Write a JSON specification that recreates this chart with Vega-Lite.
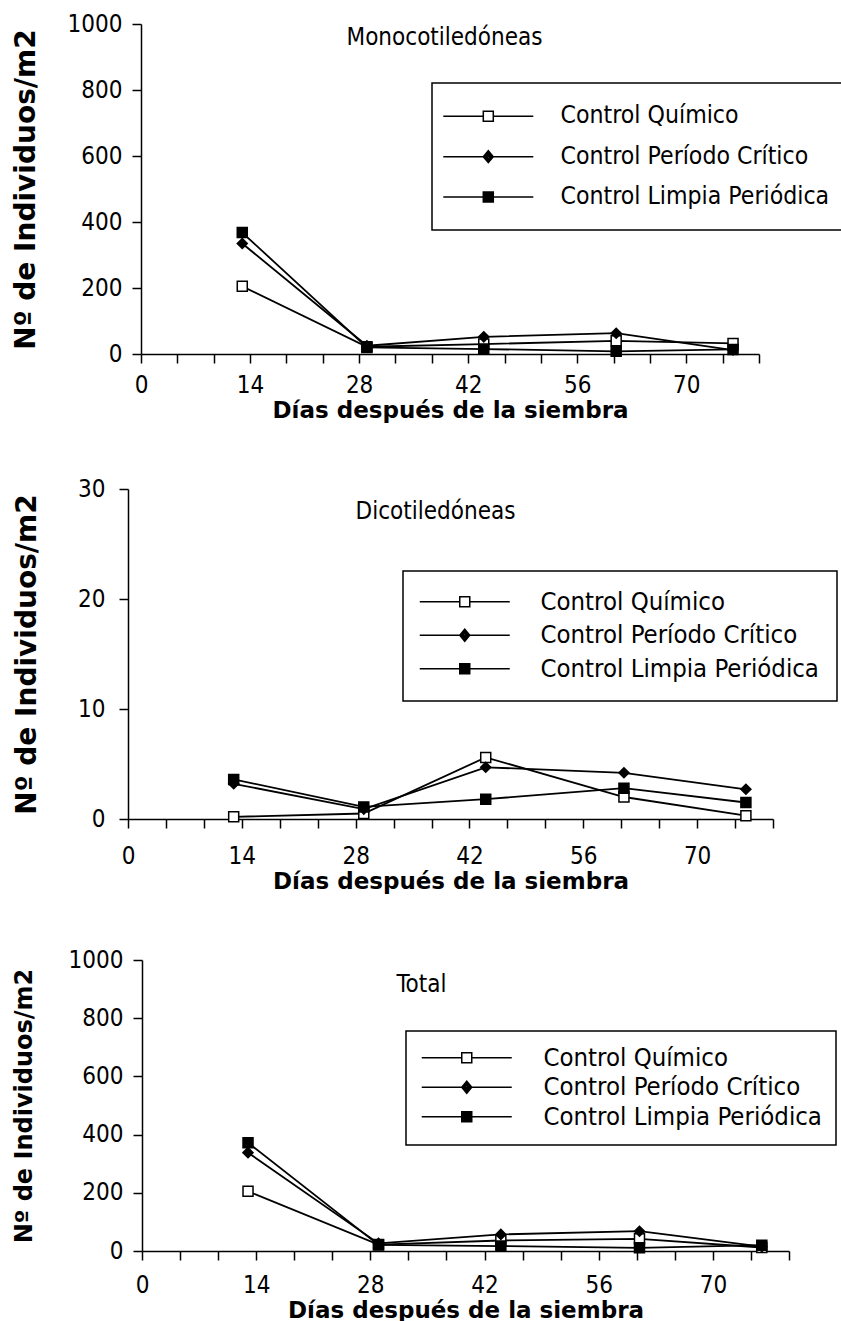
{
  "$schema": "https://vega.github.io/schema/vega-lite/v6.json",
  "background": "white",
  "padding": {"left": 12, "top": 12, "right": 0, "bottom": 0},
  "spacing": 55,
  "columns": 1,
  "datasets": {
    "mono": [
      {"serie": "Control Químico", "dia": 13, "valor": 205},
      {"serie": "Control Químico", "dia": 29, "valor": 22},
      {"serie": "Control Químico", "dia": 44, "valor": 30},
      {"serie": "Control Químico", "dia": 61, "valor": 40},
      {"serie": "Control Químico", "dia": 76, "valor": 32},
      {"serie": "Control Período Crítico", "dia": 13, "valor": 335},
      {"serie": "Control Período Crítico", "dia": 29, "valor": 25},
      {"serie": "Control Período Crítico", "dia": 44, "valor": 52},
      {"serie": "Control Período Crítico", "dia": 61, "valor": 63},
      {"serie": "Control Período Crítico", "dia": 76, "valor": 12},
      {"serie": "Control Limpia Periódica", "dia": 13, "valor": 368},
      {"serie": "Control Limpia Periódica", "dia": 29, "valor": 20},
      {"serie": "Control Limpia Periódica", "dia": 44, "valor": 15},
      {"serie": "Control Limpia Periódica", "dia": 61, "valor": 8},
      {"serie": "Control Limpia Periódica", "dia": 76, "valor": 14}
    ],
    "dico": [
      {"serie": "Control Químico", "dia": 13, "valor": 0.2},
      {"serie": "Control Químico", "dia": 29, "valor": 0.5},
      {"serie": "Control Químico", "dia": 44, "valor": 5.6},
      {"serie": "Control Químico", "dia": 61, "valor": 2.0},
      {"serie": "Control Químico", "dia": 76, "valor": 0.3},
      {"serie": "Control Período Crítico", "dia": 13, "valor": 3.2},
      {"serie": "Control Período Crítico", "dia": 29, "valor": 0.9},
      {"serie": "Control Período Crítico", "dia": 44, "valor": 4.7},
      {"serie": "Control Período Crítico", "dia": 61, "valor": 4.2},
      {"serie": "Control Período Crítico", "dia": 76, "valor": 2.7},
      {"serie": "Control Limpia Periódica", "dia": 13, "valor": 3.6},
      {"serie": "Control Limpia Periódica", "dia": 29, "valor": 1.1},
      {"serie": "Control Limpia Periódica", "dia": 44, "valor": 1.8},
      {"serie": "Control Limpia Periódica", "dia": 61, "valor": 2.8},
      {"serie": "Control Limpia Periódica", "dia": 76, "valor": 1.5}
    ],
    "total": [
      {"serie": "Control Químico", "dia": 13, "valor": 205},
      {"serie": "Control Químico", "dia": 29, "valor": 22},
      {"serie": "Control Químico", "dia": 44, "valor": 36},
      {"serie": "Control Químico", "dia": 61, "valor": 42},
      {"serie": "Control Químico", "dia": 76, "valor": 12},
      {"serie": "Control Período Crítico", "dia": 13, "valor": 338},
      {"serie": "Control Período Crítico", "dia": 29, "valor": 26},
      {"serie": "Control Período Crítico", "dia": 44, "valor": 57},
      {"serie": "Control Período Crítico", "dia": 61, "valor": 68},
      {"serie": "Control Período Crítico", "dia": 76, "valor": 15},
      {"serie": "Control Limpia Periódica", "dia": 13, "valor": 372},
      {"serie": "Control Limpia Periódica", "dia": 29, "valor": 21},
      {"serie": "Control Limpia Periódica", "dia": 44, "valor": 17},
      {"serie": "Control Limpia Periódica", "dia": 61, "valor": 11},
      {"serie": "Control Limpia Periódica", "dia": 76, "valor": 20}
    ]
  },
  "concat": [
    {
      "width": 631,
      "height": 330,
      "data": {"name": "mono"},
      "title": {"text": "Monocotiledóneas", "offset": -38, "dx": 1},
      "encoding": {
        "x": {"field": "dia", "type": "quantitative",
          "scale": {"domain": [0, 79.3333], "nice": false, "range": [13, 631]},
          "axis": {"title": "Días después de la siembra",
            "values": [0, 4.6667, 9.3333, 14, 18.6667, 23.3333, 28, 32.6667, 37.3333, 42, 46.6667, 51.3333, 56, 60.6667, 65.3333, 70, 74.6667, 79.3333],
            "labelExpr": "abs(datum.value - 14*round(datum.value/14)) < 0.01 ? format(datum.value, 'd') : ''",
            "labelPadding": 10, "titlePadding": 2, "titleFontSize": 23}},
        "y": {"field": "valor", "type": "quantitative",
          "scale": {"domain": [0, 1000], "nice": false},
          "axis": {"title": "Nº de Individuos/m2", "values": [0, 200, 400, 600, 800, 1000], "format": "d", "offset": -13,
            "labelPadding": 10, "titlePadding": 27, "titleFontSize": 28}}
      },
      "layer": [
        {"mark": {"type": "line", "color": "black", "strokeWidth": 1.8},
         "encoding": {"detail": {"field": "serie"}}},
        {"mark": {"type": "point", "stroke": "black", "strokeWidth": 1.5, "opacity": 1, "size": 100},
         "encoding": {
           "shape": {"field": "serie", "scale": {"domain": ["Control Químico", "Control Período Crítico", "Control Limpia Periódica"], "range": ["square", "diamond", "square"]}, "legend": null},
           "fill": {"field": "serie", "scale": {"domain": ["Control Químico", "Control Período Crítico", "Control Limpia Periódica"], "range": ["white", "black", "black"]}, "legend": null}}},
        {"transform": [{"filter": "false"}],
         "mark": {"type": "point", "filled": false, "color": "black", "strokeWidth": 1.5, "opacity": 1, "size": 100},
         "encoding": {
           "shape": {"field": "serie", "scale": {"domain": ["Control Químico", "Control Período Crítico", "Control Limpia Periódica"], "range": [
               "M-9,0H-1M1,0H9M-1,-1H1V1H-1Z",
               "M-9,0H9M-1,0L0,-1.2L1,0L0,1.2ZM-0.7,0L0,-0.85L0.7,0L0,0.85ZM-0.4,0L0,-0.5L0.4,0L0,0.5Z",
               "M-9,0H9M-1,-1H1V1H-1ZM-0.75,-0.75H0.75V0.75H-0.75ZM-0.5,-0.5H0.5V0.5H-0.5ZM-0.25,-0.25H0.25V0.25H-0.25Z"]},
             "legend": {"title": null, "orient": "none", "legendX": 304, "legendY": 59, "padding": 21, "rowPadding": 15.4, "labelFontSize": 24.6, "symbolOffset": 23, "labelOffset": 60}}}}
      ],
      "resolve": {"scale": {"shape": "independent"}}
    },
    {
      "width": 645,
      "height": 330,
      "data": {"name": "dico"},
      "title": {"text": "Dicotiledóneas", "offset": -47, "dx": -15},
      "encoding": {
        "x": {"field": "dia", "type": "quantitative",
          "scale": {"domain": [0, 79.3333], "nice": false},
          "axis": {"title": "Días después de la siembra",
            "values": [0, 4.6667, 9.3333, 14, 18.6667, 23.3333, 28, 32.6667, 37.3333, 42, 46.6667, 51.3333, 56, 60.6667, 65.3333, 70, 74.6667, 79.3333],
            "labelExpr": "abs(datum.value - 14*round(datum.value/14)) < 0.01 ? format(datum.value, 'd') : ''",
            "labelPadding": 16, "titlePadding": 2, "titleFontSize": 23}},
        "y": {"field": "valor", "type": "quantitative",
          "scale": {"domain": [0, 30], "nice": false},
          "axis": {"title": "Nº de Individuos/m2", "values": [0, 10, 20, 30], "format": "d",
            "labelPadding": 14, "titlePadding": 36, "titleFontSize": 28}}
      },
      "layer": [
        {"mark": {"type": "line", "color": "black", "strokeWidth": 1.8},
         "encoding": {"detail": {"field": "serie"}}},
        {"mark": {"type": "point", "stroke": "black", "strokeWidth": 1.5, "opacity": 1, "size": 100},
         "encoding": {
           "shape": {"field": "serie", "scale": {"domain": ["Control Químico", "Control Período Crítico", "Control Limpia Periódica"], "range": ["square", "diamond", "square"]}, "legend": null},
           "fill": {"field": "serie", "scale": {"domain": ["Control Químico", "Control Período Crítico", "Control Limpia Periódica"], "range": ["white", "black", "black"]}, "legend": null}}},
        {"transform": [{"filter": "false"}],
         "mark": {"type": "point", "filled": false, "color": "black", "strokeWidth": 1.5, "opacity": 1, "size": 100},
         "encoding": {
           "shape": {"field": "serie", "scale": {"domain": ["Control Químico", "Control Período Crítico", "Control Limpia Periódica"], "range": [
               "M-9,0H-1M1,0H9M-1,-1H1V1H-1Z",
               "M-9,0H9M-1,0L0,-1.2L1,0L0,1.2ZM-0.7,0L0,-0.85L0.7,0L0,0.85ZM-0.4,0L0,-0.5L0.4,0L0,0.5Z",
               "M-9,0H9M-1,-1H1V1H-1ZM-0.75,-0.75H0.75V0.75H-0.75ZM-0.5,-0.5H0.5V0.5H-0.5ZM-0.25,-0.25H0.25V0.25H-0.25Z"]},
             "legend": {"title": null, "orient": "none", "legendX": 275, "legendY": 82, "padding": 18, "rowPadding": 6.5, "labelFontSize": 25.5, "symbolOffset": 31, "labelOffset": 63}}}}
      ],
      "resolve": {"scale": {"shape": "independent"}}
    },
    {
      "width": 661,
      "height": 291,
      "data": {"name": "total"},
      "title": {"text": "Total", "offset": -49, "dx": -37},
      "encoding": {
        "x": {"field": "dia", "type": "quantitative",
          "scale": {"domain": [0, 79.3333], "nice": false, "range": [14, 661]},
          "axis": {"title": "Días después de la siembra",
            "values": [0, 4.6667, 9.3333, 14, 18.6667, 23.3333, 28, 32.6667, 37.3333, 42, 46.6667, 51.3333, 56, 60.6667, 65.3333, 70, 74.6667, 79.3333],
            "labelExpr": "abs(datum.value - 14*round(datum.value/14)) < 0.01 ? format(datum.value, 'd') : ''",
            "labelPadding": 13, "titlePadding": 2, "titleFontSize": 23}},
        "y": {"field": "valor", "type": "quantitative",
          "scale": {"domain": [0, 1000], "nice": false},
          "axis": {"title": "Nº de Individuos/m2", "values": [0, 200, 400, 600, 800, 1000], "format": "d", "offset": -14,
            "labelPadding": 10, "titlePadding": 32, "titleFontSize": 24}}
      },
      "layer": [
        {"mark": {"type": "line", "color": "black", "strokeWidth": 1.8},
         "encoding": {"detail": {"field": "serie"}}},
        {"mark": {"type": "point", "stroke": "black", "strokeWidth": 1.5, "opacity": 1, "size": 100},
         "encoding": {
           "shape": {"field": "serie", "scale": {"domain": ["Control Químico", "Control Período Crítico", "Control Limpia Periódica"], "range": ["square", "diamond", "square"]}, "legend": null},
           "fill": {"field": "serie", "scale": {"domain": ["Control Químico", "Control Período Crítico", "Control Limpia Periódica"], "range": ["white", "black", "black"]}, "legend": null}}},
        {"transform": [{"filter": "false"}],
         "mark": {"type": "point", "filled": false, "color": "black", "strokeWidth": 1.5, "opacity": 1, "size": 100},
         "encoding": {
           "shape": {"field": "serie", "scale": {"domain": ["Control Químico", "Control Período Crítico", "Control Limpia Periódica"], "range": [
               "M-9,0H-1M1,0H9M-1,-1H1V1H-1Z",
               "M-9,0H9M-1,0L0,-1.2L1,0L0,1.2ZM-0.7,0L0,-0.85L0.7,0L0,0.85ZM-0.4,0L0,-0.5L0.4,0L0,0.5Z",
               "M-9,0H9M-1,-1H1V1H-1ZM-0.75,-0.75H0.75V0.75H-0.75ZM-0.5,-0.5H0.5V0.5H-0.5ZM-0.25,-0.25H0.25V0.25H-0.25Z"]},
             "legend": {"title": null, "orient": "none", "legendX": 278, "legendY": 71, "padding": 14, "rowPadding": 2.5, "labelFontSize": 25.5, "symbolOffset": 34, "labelOffset": 64}}}}
      ],
      "resolve": {"scale": {"shape": "independent"}}
    }
  ],
  "config": {
    "view": {"stroke": null},
    "axis": {
      "grid": false,
      "domainColor": "black", "domainWidth": 1.5,
      "tickColor": "black", "tickWidth": 1.5, "tickSize": 9,
      "labelColor": "black", "labelFont": "DejaVu Sans Condensed", "labelFontSize": 24,
      "labelOverlap": false, "labelFlush": false,
      "titleColor": "black", "titleFont": "DejaVu Sans", "titleFontWeight": "bold"
    },
    "legend": {
      "strokeColor": "black", "strokeWidth": 1.5, "fillColor": "white",
      "labelFont": "DejaVu Sans Condensed", "labelFontSize": 24, "labelColor": "black", "labelLimit": 500,
      "symbolSize": 100, "symbolStrokeWidth": 1.5, "symbolStrokeColor": "black"
    },
    "title": {
      "anchor": "middle", "frame": "group", "font": "DejaVu Sans Condensed", "fontSize": 24,
      "fontWeight": "normal", "color": "black"
    }
  }
}
